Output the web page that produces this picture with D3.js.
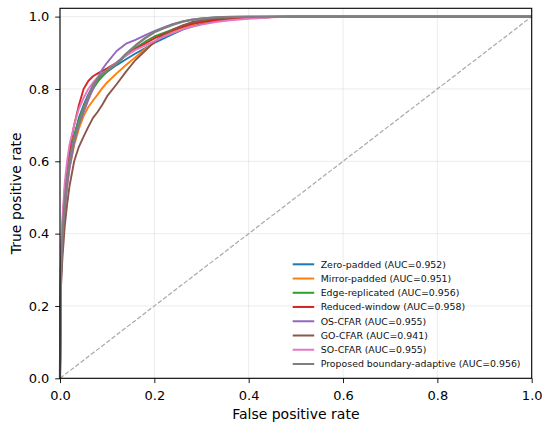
<!DOCTYPE html>
<html>
<head>
<meta charset="utf-8">
<script src="https://cdn.jsdelivr.net/npm/d3@7"></script>
<style>
  body { margin: 0; background: #fff; }
  svg { font-family: "DejaVu Sans", sans-serif; }
</style>
</head>
<body>
<div id="chart"></div>
<script>
// shared false positive rate grid
const fpr = [0, 0.002, 0.005, 0.01, 0.015, 0.02, 0.03, 0.04, 0.05, 0.06, 0.07, 0.08, 0.09, 0.10,
  0.12, 0.14, 0.16, 0.18, 0.20, 0.22, 0.24, 0.26, 0.28, 0.30, 0.33, 0.36, 0.40, 0.45, 0.50, 0.60, 0.80, 1.0];

const seriesNames = [
  'Zero-padded (AUC=0.952)',
  'Mirror-padded (AUC=0.951)',
  'Edge-replicated (AUC=0.956)',
  'Reduced-window (AUC=0.958)',
  'OS-CFAR (AUC=0.955)',
  'GO-CFAR (AUC=0.941)',
  'SO-CFAR (AUC=0.955)',
  'Proposed boundary-adaptive (AUC=0.956)'
];
const seriesColors = ['#1f77b4', '#ff7f0e', '#2ca02c', '#d62728', '#9467bd', '#8c564b', '#e377c2', '#7f7f7f'];

const tprZero   = [0, 0.28, 0.38, 0.49, 0.56, 0.60, 0.67, 0.72, 0.755, 0.785, 0.808, 0.825, 0.838, 0.848,
  0.866, 0.882, 0.898, 0.912, 0.927, 0.94, 0.952, 0.964, 0.973, 0.98, 0.988, 0.993, 0.997, 0.999, 1, 1, 1, 1];
const tprMirror = [0, 0.28, 0.37, 0.47, 0.53, 0.58, 0.645, 0.69, 0.725, 0.75, 0.768, 0.785, 0.803, 0.818,
  0.843, 0.866, 0.888, 0.91, 0.93, 0.947, 0.96, 0.97, 0.978, 0.984, 0.99, 0.994, 0.997, 0.999, 1, 1, 1, 1];
const tprEdge   = [0, 0.30, 0.40, 0.50, 0.56, 0.61, 0.67, 0.715, 0.75, 0.78, 0.80, 0.82, 0.835, 0.848,
  0.87, 0.893, 0.913, 0.93, 0.945, 0.955, 0.965, 0.975, 0.982, 0.988, 0.993, 0.996, 0.998, 0.999, 1, 1, 1, 1];
const tprReduced = [0, 0.33, 0.42, 0.52, 0.58, 0.63, 0.70, 0.755, 0.80, 0.822, 0.835, 0.843, 0.85, 0.857,
  0.873, 0.893, 0.91, 0.925, 0.94, 0.952, 0.963, 0.972, 0.98, 0.985, 0.99, 0.994, 0.997, 0.999, 1, 1, 1, 1];
const tprOS     = [0, 0.27, 0.36, 0.46, 0.53, 0.58, 0.65, 0.70, 0.735, 0.77, 0.80, 0.832, 0.855, 0.873,
  0.905, 0.925, 0.936, 0.948, 0.96, 0.97, 0.98, 0.987, 0.992, 0.995, 0.998, 0.999, 1, 1, 1, 1, 1, 1];
const tprGO     = [0, 0.25, 0.33, 0.42, 0.48, 0.53, 0.60, 0.64, 0.668, 0.695, 0.72, 0.737, 0.757, 0.78,
  0.813, 0.848, 0.88, 0.905, 0.93, 0.95, 0.965, 0.976, 0.985, 0.99, 0.995, 0.998, 0.999, 1, 1, 1, 1, 1];
const tprSO     = [0, 0.35, 0.44, 0.54, 0.60, 0.645, 0.70, 0.745, 0.775, 0.80, 0.818, 0.832, 0.843, 0.853,
  0.873, 0.892, 0.908, 0.92, 0.932, 0.945, 0.955, 0.965, 0.972, 0.978, 0.985, 0.99, 0.994, 0.998, 1, 1, 1, 1];
const tprProposed = [0, 0.30, 0.39, 0.49, 0.55, 0.60, 0.66, 0.705, 0.745, 0.78, 0.81, 0.83, 0.842, 0.852,
  0.87, 0.897, 0.92, 0.94, 0.957, 0.968, 0.978, 0.986, 0.991, 0.994, 0.998, 0.999, 1, 1, 1, 1, 1, 1];

const tprAll = [tprZero, tprMirror, tprEdge, tprReduced, tprOS, tprGO, tprSO, tprProposed];
const tickValues = [0, 0.2, 0.4, 0.6, 0.8, 1.0];

const W = 550, H = 429;
const margin = { left: 60, right: 18.3, top: 8.3, bottom: 50.7 };
const iw = W - margin.left - margin.right;
const ih = H - margin.top - margin.bottom;

const svg = d3.select('#chart').append('svg')
  .attr('width', W).attr('height', H);

const g = svg.append('g').attr('transform', `translate(${margin.left},${margin.top})`);

const x = d3.scaleLinear().domain([0, 1]).range([0, iw]);
const y = d3.scaleLinear().domain([0, 1.023]).range([ih, 0]);

// grid
g.append('g').selectAll('line.gx').data(tickValues).join('line')
  .attr('x1', d => x(d)).attr('x2', d => x(d)).attr('y1', 0).attr('y2', ih)
  .attr('stroke', '#b0b0b0').attr('stroke-opacity', 0.3).attr('stroke-width', 0.8);
g.append('g').selectAll('line.gy').data(tickValues).join('line')
  .attr('x1', 0).attr('x2', iw).attr('y1', d => y(d)).attr('y2', d => y(d))
  .attr('stroke', '#b0b0b0').attr('stroke-opacity', 0.3).attr('stroke-width', 0.8);

// chance diagonal
g.append('line')
  .attr('x1', x(0)).attr('y1', y(0)).attr('x2', x(1)).attr('y2', y(1))
  .attr('stroke', '#999').attr('stroke-opacity', 0.85).attr('stroke-width', 1.2)
  .attr('stroke-dasharray', '4.5,2');

const line = d3.line().x(d => x(d[0])).y(d => y(d[1]));

g.append('g').selectAll('path')
  .data(tprAll)
  .join('path')
  .attr('d', tpr => line(fpr.map((f, i) => [f, tpr[i]])))
  .attr('fill', 'none')
  .attr('stroke', (d, i) => seriesColors[i])
  .attr('stroke-width', (d, i) => i === 7 ? 2.4 : 1.9)
  .attr('stroke-linejoin', 'round');

// axes
const xAxis = g.append('g').attr('transform', `translate(0,${ih})`)
  .call(d3.axisBottom(x).tickValues(tickValues).tickFormat(d3.format('.1f')).tickSizeOuter(0).tickSize(4.8).tickPadding(7.5));
const yAxis = g.append('g')
  .call(d3.axisLeft(y).tickValues(tickValues).tickFormat(d3.format('.1f')).tickSizeOuter(0).tickSize(4.8).tickPadding(5.8));
[xAxis, yAxis].forEach(a => {
  a.selectAll('text').attr('font-size', 13).attr('fill', '#000').attr('font-family', '"DejaVu Sans", sans-serif');
  a.selectAll('line').attr('stroke', '#000').attr('stroke-width', 0.9);
  a.select('.domain').remove();
});

// frame
g.append('rect').attr('x', 0).attr('y', 0).attr('width', iw).attr('height', ih)
  .attr('fill', 'none').attr('stroke', '#000').attr('stroke-width', 1.1);

// axis labels
svg.append('text')
  .attr('x', margin.left + iw / 2).attr('y', 419)
  .attr('text-anchor', 'middle').attr('font-size', 14).text('False positive rate');
svg.append('text')
  .attr('transform', `translate(21,${margin.top + ih / 2}) rotate(-90)`)
  .attr('text-anchor', 'middle').attr('font-size', 14).text('True positive rate');

// legend
const legend = svg.append('g').attr('transform', 'translate(292.7,264.3)');
const item = legend.selectAll('g').data(seriesNames).join('g')
  .attr('transform', (d, i) => `translate(0,${i * 14.24})`);
item.append('line')
  .attr('x1', 0).attr('x2', 21.5).attr('y1', 0).attr('y2', 0)
  .attr('stroke', (d, i) => seriesColors[i]).attr('stroke-width', 2);
item.append('text')
  .attr('x', 28).attr('y', 3.3)
  .attr('font-size', 9.4).attr('fill', '#111')
  .text(d => d);
</script>
</body>
</html>
